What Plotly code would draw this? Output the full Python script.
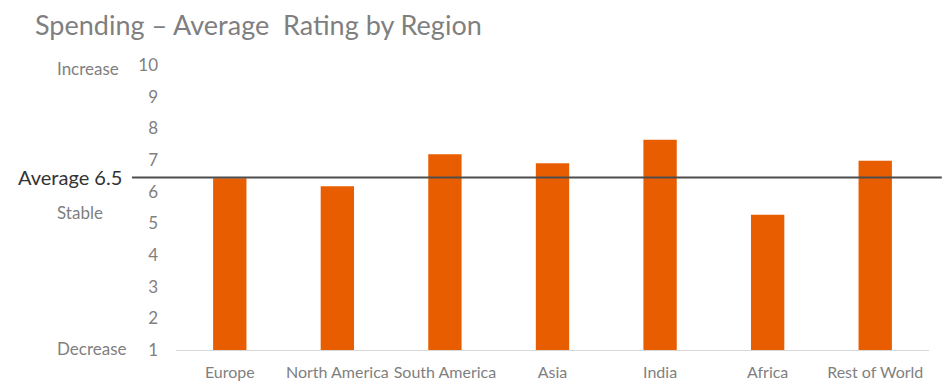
import plotly.graph_objects as go

regions = ["Europe", "North America", "South America", "Asia", "India", "Africa", "Rest of World"]
ratings = [6.42, 6.17, 7.18, 6.9, 7.64, 5.27, 6.98]
average_value = 6.45
average_label = "Average 6.5"
y_ticks = [1, 2, 3, 4, 5, 6, 7, 8, 9, 10]
scale_labels = ["Increase", "Stable", "Decrease"]
scale_label_values = [9.9, 5.33, 1.06]

FONT = "Lato"
GRAY = "#7f7f7f"
OFF = 8  # default page body margin

W, H = 951 - OFF, 389 - OFF

fig = go.Figure()
fig.add_trace(go.Bar(
    x=regions, y=ratings, base=0,
    marker=dict(color="#E85D00", line=dict(width=0)),
    width=0.31,
    hoverinfo="x+y",
))

fig.add_shape(type="line", xref="paper", yref="y",
              x0=-0.0584, x1=1.017, y0=average_value, y1=average_value,
              line=dict(color="#4d4d4d", width=2), layer="above")

annotations = [
    dict(text=average_label, xref="paper", yref="y", x=-0.069, y=average_value,
         xanchor="right", yanchor="middle", showarrow=False,
         font=dict(family=FONT, size=20, color="#333333")),
]
for t, v in zip(scale_labels, scale_label_values):
    annotations.append(dict(text=t, xref="paper", yref="y", x=-0.161, y=v,
                            xanchor="left", yanchor="middle", showarrow=False,
                            font=dict(family=FONT, size=17, color=GRAY)))

fig.update_layout(
    width=W, height=H,
    margin=dict(l=176 - OFF, r=22, t=65 - OFF, b=39, autoexpand=False),
    paper_bgcolor="white", plot_bgcolor="white",
    title=dict(text="Spending – Average\u00a0 Rating by Region", x=(35 - OFF) / W, xanchor="left",
               y=1 - (26 - OFF) / H, yanchor="middle",
               font=dict(family=FONT, size=27, color=GRAY)),
    showlegend=False,
    bargap=0.69,
    annotations=annotations,
    xaxis=dict(showgrid=False, showline=True, linecolor="#d9d9d9", linewidth=1,
               ticks="", ticklabelstandoff=8, automargin=False,
               tickfont=dict(family=FONT, size=16, color=GRAY),
               fixedrange=True),
    yaxis=dict(range=[1, 10], tickvals=y_ticks, showgrid=False, showline=False,
               zeroline=False, ticks="", ticklabelstandoff=17, automargin=False,
               tickfont=dict(family=FONT, size=17, color=GRAY), fixedrange=True),
)

fig.write_html("out.html")
